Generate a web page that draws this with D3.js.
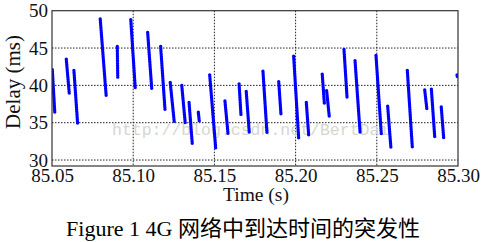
<!DOCTYPE html>
<html>
<head>
<meta charset="utf-8">
<script src="https://cdn.jsdelivr.net/npm/d3@7/dist/d3.min.js"></script>
<style>
  body { margin: 0; background: #fff; }
  svg text { font-family: "Liberation Serif", "Noto Sans CJK SC", serif; }
</style>
</head>
<body>
<script>
// each burst of packets: arrival time range (s) and delay range (ms)
var burstStart = [85.0502, 85.0588, 85.0635, 85.0797, 85.0902, 85.0985, 85.1089, 85.1169, 85.1228, 85.1299,
                  85.1344, 85.1401, 85.1471, 85.1565, 85.1652, 85.1696, 85.1799, 85.1896, 85.1988, 85.2066,
                  85.2164, 85.2191, 85.2298, 85.2366, 85.2495, 85.2567, 85.2688, 85.2795, 85.2836, 85.2897, 85.2994];
var burstEnd   = [85.0517, 85.0607, 85.0658, 85.0834, 85.0905, 85.1013, 85.1114, 85.1196, 85.1253, 85.1321,
                  85.1364, 85.1407, 85.1508, 85.1584, 85.1664, 85.1715, 85.1824, 85.1910, 85.2019, 85.2081,
                  85.2177, 85.2207, 85.2317, 85.2397, 85.2528, 85.2587, 85.2719, 85.2809, 85.2857, 85.2912, 85.2997];
var delayStart = [42.1, 43.5, 42.0, 48.9, 45.2, 48.8, 47.1, 45.2, 40.4, 40.0,
                  37.7, 36.4, 41.4, 37.9, 40.2, 39.2, 41.9, 40.5, 43.9, 37.7,
                  41.5, 39.3, 44.8, 43.3, 44.0, 37.2, 42.0, 39.4, 39.5, 37.1, 41.4];
var delayEnd   = [36.4, 38.75, 34.8, 38.5, 41.0, 39.5, 39.6, 36.7, 35.05, 34.8,
                  32.1, 35.2, 31.6, 33.5, 35.9, 33.6, 33.5, 36.1, 32.9, 33.2,
                  37.6, 35.9, 38.3, 33.7, 33.4, 31.6, 31.6, 36.7, 33.0, 32.9, 41.0];

var xTicks = [85.05, 85.10, 85.15, 85.20, 85.25, 85.30];
var yTicks = [30, 35, 40, 45, 50];

var W = 484, H = 242;
var plotL = 52, plotR = 458, plotT = 10.7, plotB = 166;

var svg = d3.select("body").append("svg")
  .attr("width", W)
  .attr("height", H);

var x = d3.scaleLinear().domain([85.05, 85.30]).range([plotL, plotR]);
var y = d3.scaleLinear().domain([29.2, 50]).range([plotB, plotT]);

svg.append("defs").append("clipPath")
  .attr("id", "plotclip")
  .append("rect")
  .attr("x", plotL).attr("y", plotT)
  .attr("width", plotR - plotL).attr("height", plotB - plotT);

// dotted grid
svg.append("g").selectAll("line")
  .data(xTicks.slice(1, -1))
  .enter().append("line")
  .attr("x1", d => x(d)).attr("x2", d => x(d))
  .attr("y1", plotT).attr("y2", plotB)
  .attr("stroke", "#222").attr("stroke-width", 1)
  .attr("stroke-dasharray", "1.5,1.5");

svg.append("g").selectAll("line")
  .data(yTicks.slice(0, -1))
  .enter().append("line")
  .attr("x1", plotL).attr("x2", plotR)
  .attr("y1", d => y(d)).attr("y2", d => y(d))
  .attr("stroke", "#222").attr("stroke-width", 1)
  .attr("stroke-dasharray", "1.5,1.5");

// watermark
svg.append("text")
  .attr("x", 112).attr("y", 135)
  .style("font-family", "'Liberation Mono', monospace")
  .style("font-size", "16.5px")
  .attr("fill", "#d6d6d0")
  .text("http://blog.csdn.net/BertDai");

// bursts
var bursts = burstStart.map(function(d, i) {
  return {t0: d, t1: burstEnd[i], d0: delayStart[i], d1: delayEnd[i]};
});

svg.append("g")
  .attr("clip-path", "url(#plotclip)")
  .selectAll("line")
  .data(bursts)
  .enter().append("line")
  .attr("x1", d => x(d.t0)).attr("y1", d => y(d.d0))
  .attr("x2", d => x(d.t1)).attr("y2", d => y(d.d1))
  .attr("stroke", "#0000ff")
  .attr("stroke-width", 3.4)
  .attr("stroke-linecap", "round")
  .attr("stroke-dasharray", "0,1.7");

// frame
svg.append("rect")
  .attr("x", plotL).attr("y", plotT)
  .attr("width", plotR - plotL).attr("height", plotB - plotT)
  .attr("fill", "none")
  .attr("stroke", "#333").attr("stroke-width", 1.2);

// axes
var xAxis = svg.append("g")
  .attr("transform", "translate(0," + plotB + ")")
  .call(d3.axisBottom(x).tickValues(xTicks).tickSize(0).tickFormat(d3.format(".2f")));
xAxis.select(".domain").remove();
xAxis.selectAll("text")
  .attr("y", 16).attr("dy", null)
  .attr("fill", "#111")
  .style("font-size", "19px");

var yAxis = svg.append("g")
  .attr("transform", "translate(" + plotL + ",0)")
  .call(d3.axisLeft(y).tickValues(yTicks).tickSize(0).tickPadding(4));
yAxis.select(".domain").remove();
yAxis.selectAll("text")
  .attr("dy", "0.33em")
  .attr("fill", "#111")
  .style("font-size", "19px");

// axis titles
svg.append("text")
  .attr("x", (plotL + plotR) / 2 + 1).attr("y", 201)
  .attr("text-anchor", "middle")
  .attr("fill", "#111")
  .style("font-size", "19.5px")
  .text("Time (s)");

svg.append("text")
  .attr("transform", "translate(20," + 82 + ") rotate(-90)")
  .attr("text-anchor", "middle")
  .attr("fill", "#111")
  .style("font-size", "21px")
  .text("Delay (ms)");

// caption
svg.append("text")
  .attr("x", 243).attr("y", 236)
  .attr("text-anchor", "middle")
  .attr("fill", "#000")
  .style("font-size", "22px")
  .text("Figure 1 4G 网络中到达时间的突发性");
</script>
</body>
</html>
